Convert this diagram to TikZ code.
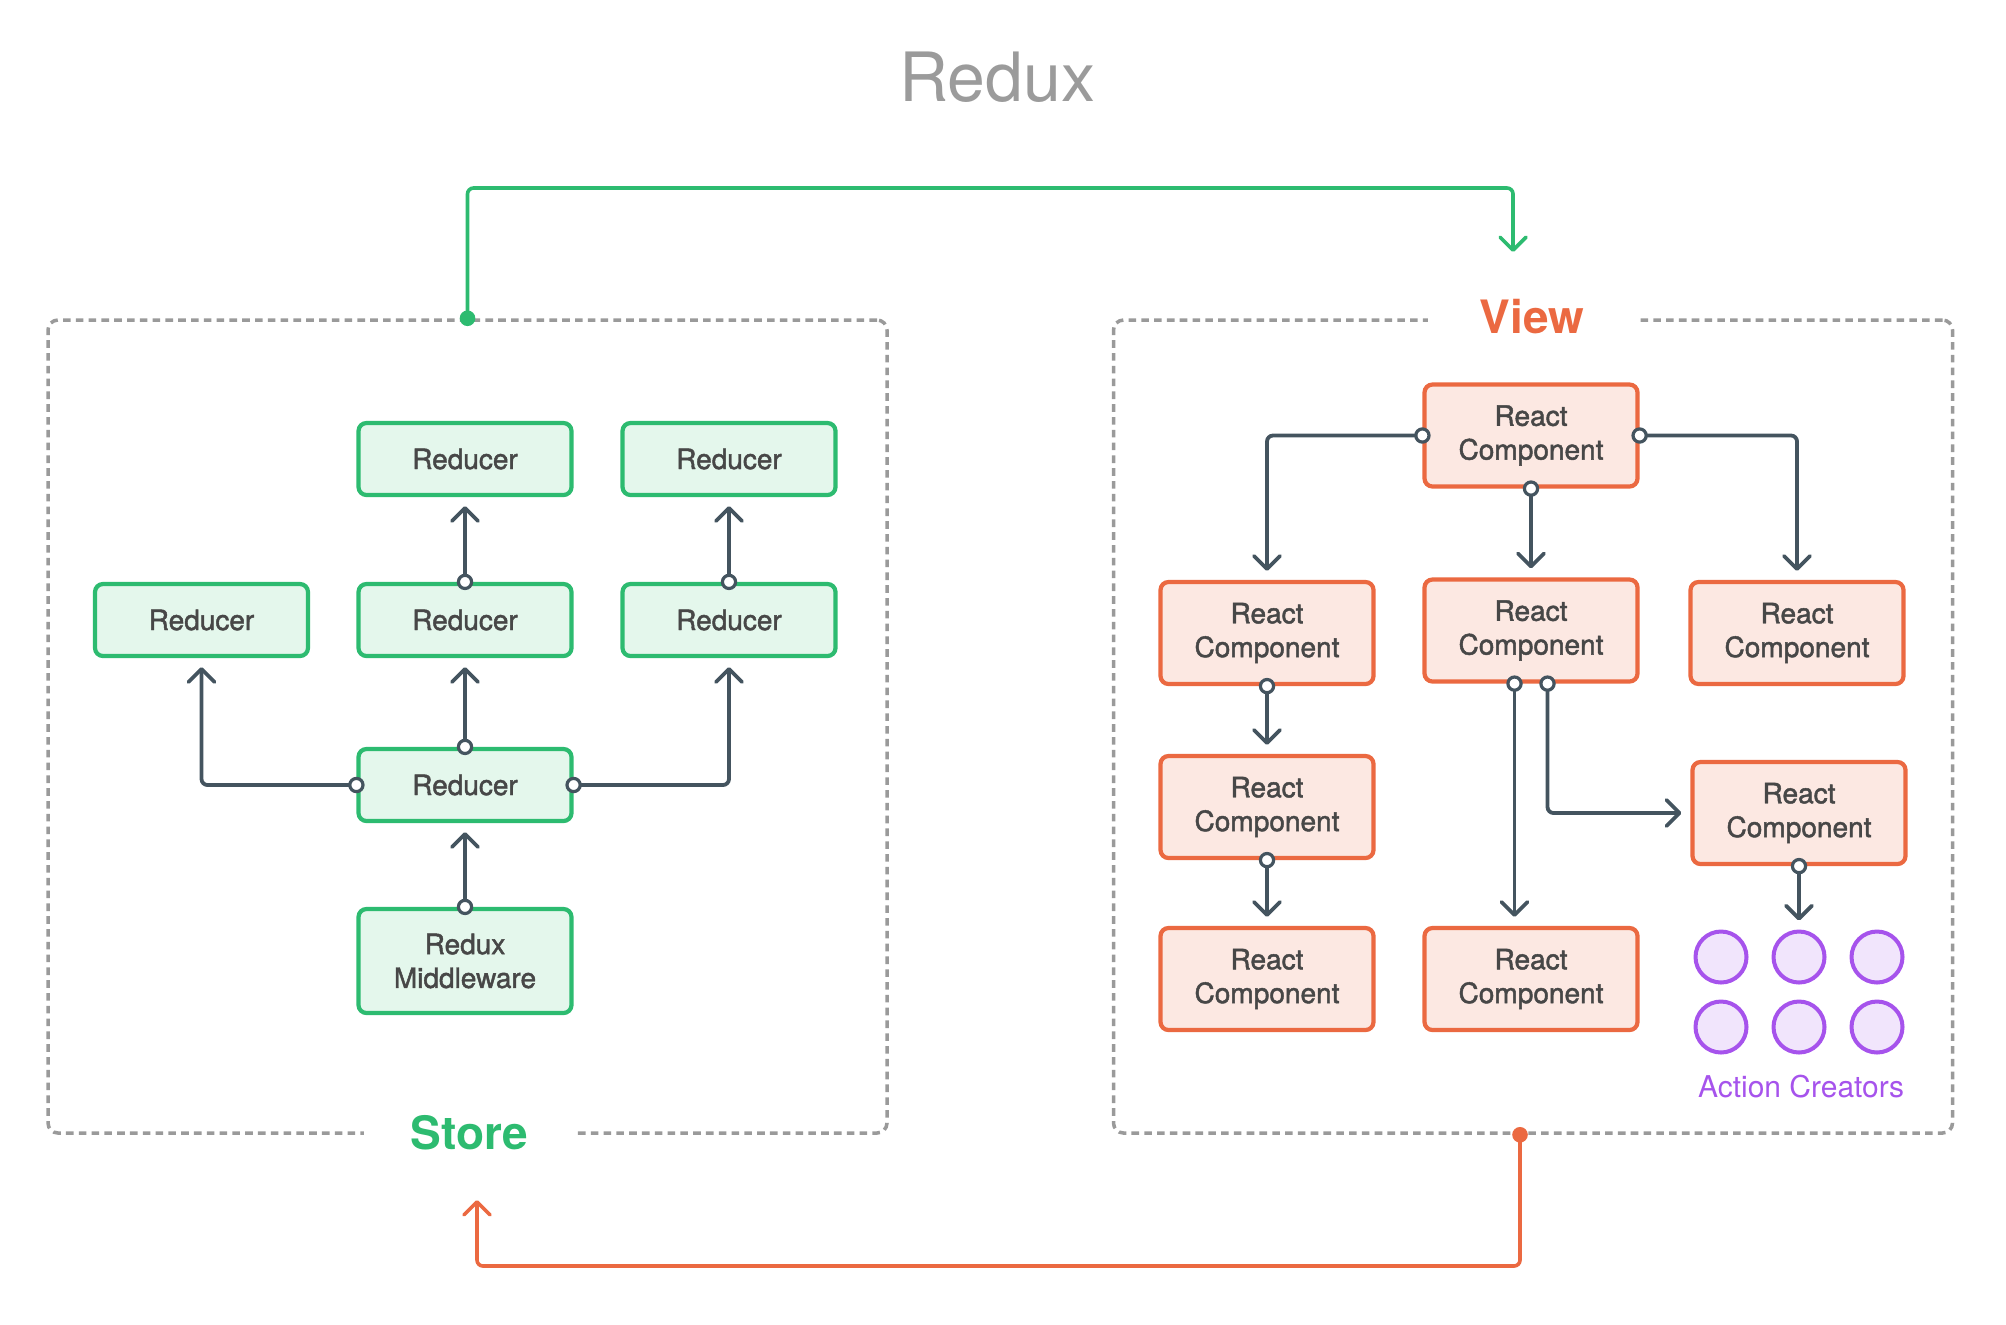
\documentclass[tikz,border=0pt]{standalone}
\usepackage{fontspec}
\setmainfont{TeX Gyre Heros}
\newfontfamily\boxfont{TeX Gyre Heros}[FakeBold=1.6]
\usetikzlibrary{arrows.meta,calc}
\definecolor{gr}{HTML}{2DBB70}
\definecolor{grfill}{HTML}{E4F7EC}
\definecolor{org}{HTML}{EB6941}
\definecolor{orgfill}{HTML}{FCE8E2}
\definecolor{slate}{HTML}{44545F}
\definecolor{dashc}{HTML}{9A9A9A}
\definecolor{purp}{HTML}{A653EC}
\definecolor{purpfill}{HTML}{F1E5FC}
\definecolor{txt}{HTML}{474747}
\definecolor{titlec}{HTML}{9B9B9B}
\begin{document}
\begin{tikzpicture}[x=0.5pt,y=-0.5pt,
  font=\boxfont\fontsize{14}{16.9}\selectfont,
  box/.style={line width=2.1pt, rounded corners=4pt, minimum width=106.5pt,
    text=txt, inner sep=0pt, align=center},
  redbox/.style={box, draw=gr, fill=grfill, minimum height=36pt},
  rcbox/.style={box, draw=org, fill=orgfill, minimum height=51pt},
  dashbox/.style={draw=dashc, line width=1.75pt, dash pattern=on 3.8pt off 2.6pt, rounded corners=5pt, minimum width=419.5pt, inner sep=0pt},
  tip/.style={-{Straight Barb[round, length=6.5pt, width=13pt]}},
  conn/.style={draw=slate, line width=1.9pt, tip, shorten >=4.5pt, rounded corners=3pt},
  startc/.style={circle, draw=slate, fill=white, line width=1.6pt, minimum size=6.6pt, inner sep=0pt},
  flow/.style={line width=1.8pt, tip, rounded corners=3pt},
  actc/.style={circle, draw=purp, fill=purpfill, line width=2pt, minimum size=25.5pt, inner sep=0pt},
  lbl/.style={fill=white, inner ysep=0pt, font=\normalfont\fontsize{23}{27}\selectfont\bfseries}
]
\useasboundingbox (0,0) rectangle (2006,1324);

% title
\node[anchor=base, text=titlec, font=\normalfont\fontsize{34}{40}\selectfont] (title) at (997,101) {Redux};

% dashed containers
\node[dashbox, minimum height=406.5pt] (store) at (467.5,726.5) {};
\node[dashbox, minimum height=406.5pt] (view) at (1533,726.5) {};
\node[lbl, text=gr, inner xsep=23.25pt] (storelbl) at (469.5,1133) {Store};
\node[lbl, text=org, inner xsep=25.75pt] (viewlbl) at (1532,317) {View};

% store side
\node[redbox] (r1a) at (465,459) {Reducer};
\node[redbox] (r1b) at (729,459) {Reducer};
\node[redbox] (r2a) at (201.5,620) {Reducer};
\node[redbox] (r2b) at (465,620) {Reducer};
\node[redbox] (r2c) at (729,620) {Reducer};
\node[redbox] (r3) at (465,785) {Reducer};
\node[redbox, minimum height=52pt] (mw) at (465,961) {Redux\\Middleware};

\draw[conn] (r2b.north) -- (r1a.south);
\draw[conn] (r2c.north) -- (r1b.south);
\draw[conn] (r3.north) -- (r2b.south);
\draw[conn] (r3.west) -| (r2a.south);
\draw[conn] (r3.east) -| (r2c.south);
\draw[conn] (mw.north) -- (r3.south);
\node[startc] (s1) at (r2b.north) {};
\node[startc] (s2) at (r2c.north) {};
\node[startc] (s3) at (r3.north) {};
\node[startc] (s4) at (r3.west) {};
\node[startc] (s5) at (r3.east) {};
\node[startc] (s6) at (mw.north) {};

% view side
\node[rcbox] (c0) at (1531,435.5) {React\\Component};
\node[rcbox] (c1) at (1267,633) {React\\Component};
\node[rcbox] (c2) at (1531,630.5) {React\\Component};
\node[rcbox] (c3) at (1797,633) {React\\Component};
\node[rcbox] (c4) at (1267,807) {React\\Component};
\node[rcbox] (c6) at (1799,813) {React\\Component};
\node[rcbox] (c7) at (1267,979) {React\\Component};
\node[rcbox] (c8) at (1531,979) {React\\Component};

\node[actc] (a1) at (1721,957) {};
\node[actc] (a2) at (1799,957) {};
\node[actc] (a3) at (1877,957) {};
\node[actc] (a4) at (1721,1027) {};
\node[actc] (a5) at (1799,1027) {};
\node[actc] (a6) at (1877,1027) {};
\node[anchor=base, text=purp, font=\normalfont\fontsize{15}{18}\selectfont] (aclbl) at (1801,1097) {Action Creators};

\coordinate (c2l) at ($(c2.south)+(-16.5,0)$);
\coordinate (c2r) at ($(c2.south)+(16.5,0)$);
\draw[conn] (c0.west) -| (c1.north);
\draw[conn] (c0.south) -- (c2.north);
\draw[conn] (c0.east) -| (c3.north);
\draw[conn] (c1.south) -- (c4.north);
\draw[conn] (c4.south) -- (c7.north);
\draw[conn] (c2l) -- (c2l |- c8.north);
\draw[conn] (c2r) |- (c6.west);
\draw[conn] (c6.south) -- (a2.north);
\node[startc] (t1) at (c0.west) {};
\node[startc] (t2) at (c0.south) {};
\node[startc] (t3) at (c0.east) {};
\node[startc] (t4) at (c1.south) {};
\node[startc] (t5) at (c4.south) {};
\node[startc] (t6) at (c2l) {};
\node[startc] (t7) at (c2r) {};
\node[startc] (t8) at (c6.south) {};

% store -> view (green), view -> store (orange)
\coordinate (rail) at (0,188);
\coordinate (viewin) at (1513,252);
\draw[flow, draw=gr] (store.north) -- (store.north |- rail) -| (viewin);
\fill[gr] (store.north) circle (3.9pt);

\coordinate (orail) at (0,1266);
\coordinate (vdot) at ($(view.south)+(-13,0)$);
\coordinate (storein) at (477,1200);
\draw[flow, draw=org] (vdot) -- (vdot |- orail) -| (storein);
\fill[org] (vdot) circle (3.9pt);
\end{tikzpicture}
\end{document}
